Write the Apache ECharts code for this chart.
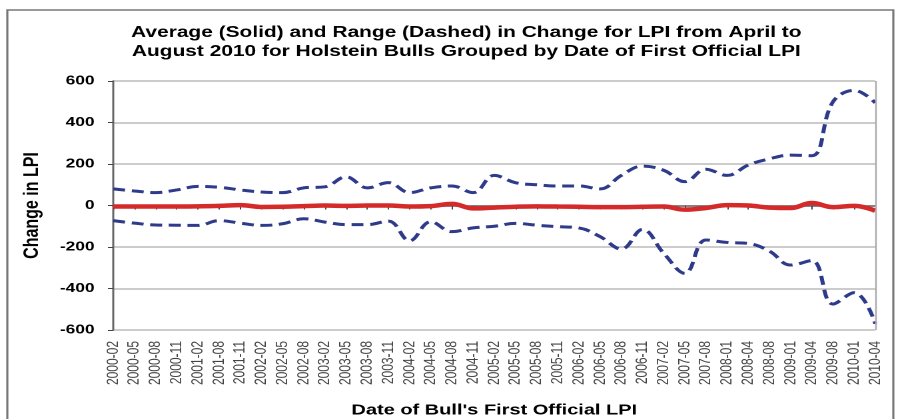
<!DOCTYPE html>
<html>
<head>
<meta charset="utf-8">
<script src="https://cdn.jsdelivr.net/npm/echarts@6/dist/echarts.min.js"></script>
<style>
  html, body { margin: 0; padding: 0; background: #fff; overflow: hidden; }
  /* the source picture is stretched sideways, so the chart is drawn narrow and widened */
  #chart { width: 674px; height: 419px; transform: scaleX(1.3323); transform-origin: 0 0; }
</style>
</head>
<body>
<div id="chart"></div>
<script>
var categories = ['2000-02', '2000-05', '2000-08', '2000-11', '2001-02', '2001-08', '2001-11',
    '2002-02', '2002-05', '2002-08', '2003-02', '2003-05', '2003-08', '2003-11',
    '2004-02', '2004-05', '2004-08', '2004-11', '2005-02', '2005-05', '2005-08', '2005-11',
    '2006-02', '2006-05', '2006-08', '2006-11', '2007-02', '2007-05', '2007-08',
    '2008-01', '2008-04', '2008-08', '2009-01', '2009-04', '2009-08', '2010-01', '2010-04'];

// average change (solid red)
var average = [-5, -5, -5, -5, -4, -2, 2, -7, -6, -3, 0, -2, 0, 0, -5, -3, 8, -14,
    -10, -6, -4, -5, -6, -8, -8, -6, -5, -20, -12, 2, 0, -10, -12, 12, -8, -2, -25];

// range, upper and lower (dashed blue)
var rangeHigh = [80, 70, 62, 75, 92, 88, 75, 65, 62, 85, 90, 138, 85, 110, 62, 85, 94, 62,
    145, 110, 100, 94, 94, 80, 145, 190, 170, 115, 175, 145, 195, 225, 243, 240, 500, 555, 495];
var rangeLow = [-73, -85, -94, -95, -96, -73, -85, -96, -88, -64, -80, -92, -92, -75, -170, -78,
    -126, -108, -100, -86, -95, -102, -108, -150, -210, -115, -230, -327, -166, -178, -183,
    -220, -287, -265, -475, -420, -570];

var yTicks = [-600, -400, -200, 0, 200, 400, 600];

var chart = echarts.init(document.getElementById('chart'), null, { devicePixelRatio: 2 });

var dashed = function (name, data) {
    return {
        name: name,
        type: 'line',
        data: data,
        smooth: 0.4,
        symbol: 'none',
        z: 3,
        lineStyle: { color: '#2e3a8a', width: 3, type: [9, 5] }
    };
};

chart.setOption({
    animation: false,
    title: {
        text: 'Average (Solid) and Range (Dashed) in Change for LPI from April to\nAugust 2010 for Holstein Bulls Grouped by Date of First Official LPI',
        left: 345,
        top: 18,
        textAlign: 'center',
        textStyle: {
            fontFamily: 'Liberation Sans',
            fontWeight: 'bold',
            fontSize: 15.7,
            lineHeight: 19,
            color: '#000'
        }
    },
    graphic: [{
        type: 'rect',
        shape: { x: 5.5, y: 10, width: 665, height: 430 },
        style: { fill: 'none', stroke: '#777', lineWidth: 1.6 },
        silent: true
    }],
    grid: { left: 85, right: 17, top: 81, bottom: 89, outerBoundsMode: 'none' },
    xAxis: {
        type: 'category',
        data: categories,
        boundaryGap: false,
        name: "Date of Bull's First Official LPI",
        nameLocation: 'middle',
        nameGap: 73,
        nameTextStyle: { fontFamily: 'Liberation Sans', fontWeight: 'bold', fontSize: 15, color: '#000' },
        axisLine: { lineStyle: { color: '#666', width: 1.5 } },
        axisTick: { alignWithLabel: true, length: 4, lineStyle: { color: '#444' } },
        axisLabel: {
            rotate: 90,
            interval: 0,
            margin: 11,
            fontFamily: 'Liberation Sans',
            fontSize: 12,
            color: '#444'
        },
        splitLine: { show: false }
    },
    yAxis: {
        type: 'value',
        min: -600,
        max: 600,
        interval: 200,
        name: 'Change in LPI',
        nameLocation: 'middle',
        nameGap: 53,
        nameRotate: 90,
        nameTextStyle: { fontFamily: 'Liberation Sans', fontWeight: 'bold', fontSize: 16, color: '#000' },
        axisLine: { show: true, lineStyle: { color: '#666', width: 1.5 } },
        axisTick: { show: true, length: 4, lineStyle: { color: '#444' } },
        axisLabel: {
            margin: 14,
            fontFamily: 'Liberation Sans',
            fontWeight: 'bold',
            fontSize: 13,
            color: '#000',
            formatter: function (v) { return yTicks.indexOf(v) >= 0 ? String(v) : ''; }
        },
        splitLine: { lineStyle: { color: '#bbb', width: 1.5 } }
    },
    series: [
        dashed('Range high', rangeHigh),
        dashed('Range low', rangeLow),
        {
            name: 'Average',
            type: 'line',
            data: average,
            smooth: 0.4,
            symbol: 'none',
            z: 4,
            lineStyle: { color: '#d42a2a', width: 4.5 }
        },
        {
            // right edge of the plot area
            type: 'line',
            data: [],
            markLine: {
                silent: true,
                symbol: 'none',
                label: { show: false },
                lineStyle: { color: '#aaa', type: 'solid', width: 1.2 },
                data: [{ xAxis: categories[categories.length - 1] }]
            }
        }
    ]
});
</script>
</body>
</html>
